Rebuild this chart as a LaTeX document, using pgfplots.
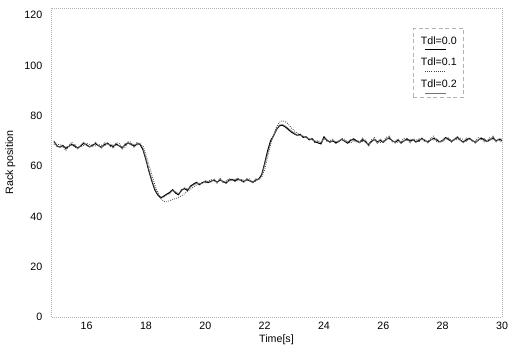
\documentclass[border=0pt]{standalone}
\usepackage{pgfplots}
\usepackage{pgfplotstable}
\pgfplotsset{compat=1.18}
\usepackage{fontspec}
\setmainfont{Liberation Sans}
\pgfplotstableread{
x a b c
14.9 69.8 70.0 68.7
15.0 68.0 67.6 68.6
15.1 67.5 67.7 68.5
15.2 68.2 67.5 68.0
15.3 67.0 67.6 66.1
15.4 67.8 67.8 68.2
15.5 68.6 68.3 69.5
15.6 67.9 68.7 67.3
15.7 67.2 66.7 67.4
15.8 68.0 68.3 67.6
15.9 69.0 69.5 68.2
16.0 68.4 68.0 69.0
16.1 67.6 67.8 68.6
16.2 68.3 67.6 68.1
16.3 68.9 69.5 68.0
16.4 68.1 68.1 68.5
16.5 67.4 67.1 68.3
16.6 68.5 69.3 67.9
16.7 69.1 68.6 69.3
16.8 68.2 68.5 67.8
16.9 67.8 68.3 67.0
17.0 68.7 68.3 69.3
17.1 68.0 68.2 69.0
17.2 67.3 66.6 67.1
17.3 68.4 69.0 67.5
17.4 69.2 69.2 69.6
17.5 68.6 68.3 69.5
17.6 67.9 68.7 67.3
17.7 68.8 68.3 69.5
17.8 68.6 69.1 68.4
17.9 66.5 67.0 68.0
18.0 62.5 63.0 64.5
18.1 58.0 58.6 60.5
18.2 54.0 54.5 56.5
18.3 50.5 51.0 52.5
18.4 48.5 48.8 49.5
18.5 47.3 47.8 47.0
18.6 48.0 47.6 46.0
18.7 48.8 48.5 45.8
18.8 49.5 49.0 46.2
18.9 50.6 50.2 46.8
19.0 49.2 49.8 47.0
19.1 48.6 49.0 47.5
19.2 50.5 50.0 48.2
19.3 51.0 51.4 49.0
19.4 50.3 50.8 50.0
19.5 52.0 51.6 50.8
19.6 52.8 52.4 51.6
19.7 53.5 53.0 52.4
19.8 52.6 53.2 53.0
19.9 53.4 53.0 53.6
20.0 53.8 54.2 53.2
20.1 53.4 53.8 53.9
20.2 54.0 53.6 54.6
20.3 54.4 54.9 54.0
20.4 53.6 53.3 53.2
20.5 54.5 55.1 55.1
20.6 53.8 53.5 53.4
20.7 53.2 53.7 54.0
20.8 54.4 54.0 55.0
20.9 54.7 54.3 54.5
21.0 54.0 54.7 54.6
21.1 54.9 55.2 54.1
21.2 54.3 54.1 54.7
21.3 53.8 53.4 54.4
21.4 54.6 55.1 54.2
21.5 54.1 54.2 54.9
21.6 53.6 53.3 53.2
21.7 54.4 55.0 54.1
21.8 54.8 54.5 54.8
21.9 56.5 56.0 55.5
22.0 61.0 60.5 58.5
22.1 66.0 65.0 63.5
22.2 70.0 69.2 68.5
22.3 72.0 72.0 72.5
22.4 74.5 74.6 75.5
22.5 76.0 76.3 77.4
22.6 76.2 76.5 78.0
22.7 75.5 75.9 77.6
22.8 74.5 75.0 76.6
22.9 73.5 74.0 75.2
23.0 72.8 73.2 74.0
23.1 72.2 72.0 73.0
23.2 72.6 72.2 72.4
23.3 71.4 71.9 71.8
23.4 71.6 71.2 71.5
23.5 70.4 70.9 70.6
23.6 70.8 70.3 71.2
23.7 69.6 70.0 69.0
23.8 69.2 69.6 70.2
23.9 68.8 69.4 69.3
24.0 71.6 71.0 70.8
24.1 70.2 70.6 69.8
24.2 69.5 69.3 70.1
24.3 70.0 70.3 70.8
24.4 69.2 69.6 68.9
24.5 69.9 69.9 69.5
24.6 70.6 70.8 71.0
24.7 69.8 69.9 70.6
24.8 69.1 69.5 69.5
24.9 70.2 70.7 69.1
25.0 70.8 70.1 70.2
25.1 70.0 69.7 69.6
25.2 69.3 69.3 70.1
25.3 70.4 71.2 69.8
25.4 69.7 69.2 70.6
25.5 68.5 68.8 67.7
25.6 69.8 69.4 70.4
25.7 70.5 70.7 71.5
25.8 69.6 68.9 69.4
25.9 70.2 70.8 69.3
26.0 69.4 69.4 69.8
26.1 70.6 70.3 71.5
26.2 71.2 72.0 70.6
26.3 70.0 69.5 70.2
26.4 69.5 69.8 69.1
26.5 70.3 70.8 69.5
26.6 69.2 68.8 69.8
26.7 70.0 70.2 71.0
26.8 70.8 70.1 70.6
26.9 69.9 70.5 69.0
27.0 70.4 70.4 70.8
27.1 69.6 69.3 70.5
27.2 70.1 70.9 69.5
27.3 70.9 70.4 71.1
27.4 70.2 70.5 69.8
27.5 69.5 69.1 69.8
27.6 70.4 70.6 71.0
27.7 71.0 70.3 71.9
27.8 70.3 70.9 69.7
27.9 69.6 69.6 69.4
28.0 70.2 70.1 69.8
28.1 71.3 71.0 70.7
28.2 70.5 71.3 70.8
28.3 69.8 69.3 70.2
28.4 70.6 70.8 70.4
28.5 71.4 71.8 70.5
28.6 70.2 70.2 71.1
28.7 69.5 69.2 70.4
28.8 70.4 71.2 69.8
28.9 71.0 70.5 71.2
29.0 70.1 70.4 69.7
29.1 69.4 69.0 70.0
29.2 70.3 70.5 71.3
29.3 71.1 70.4 70.9
29.4 70.4 71.0 69.5
29.5 69.7 69.7 70.1
29.6 70.5 70.2 71.4
29.7 71.2 72.0 70.6
29.8 70.0 69.5 70.2
29.9 70.6 70.9 70.2
30.0 70.2 70.7 69.4
}\datatable
\begin{document}
\begin{tikzpicture}
\begin{axis}[
  name=ax,
  scale only axis,
  width=338.25pt, height=231.75pt,
  xmin=14.8, xmax=30.0,
  ymin=0, ymax=122.8,
  xtick={16,18,20,22,24,26,28,30},
  ytick={0,20,40,60,80,100,120},
  tick style={draw=none},
  axis line style={gray!60, densely dotted, line width=0.5pt},
  /pgf/number format/assume math mode=true,
  tick label style={font=\fontsize{8}{9.5}\selectfont},
  yticklabel style={xshift=-3pt},
  label style={font=\fontsize{8}{9.5}\selectfont},
  xlabel={Time[s]},
  ylabel={Rack position},
  xlabel style={yshift=3pt},
  legend style={at={(0.803,0.935)}, anchor=north west, draw=gray!60, densely dashed,
    font=\fontsize{8}{9.5}\selectfont, row sep=5pt, inner xsep=3pt, inner ysep=4pt},
  legend cell align=left,
  legend image code/.code={\draw[#1, overlay] (0.2cm,-0.22cm) -- (0.75cm,-0.22cm); \path[draw=none, fill=none] (0,0) rectangle (0.02cm,0.01cm);},
]
\addplot[black, line width=0.8pt] table[x=x, y=a] {\datatable};
\addlegendentry{Tdl=0.0}
\addplot[black!75, line width=0.6pt, densely dotted] table[x=x, y=c] {\datatable};
\addlegendentry{Tdl=0.1}
\addplot[black!55, line width=0.4pt] table[x=x, y=b] {\datatable};
\addlegendentry{Tdl=0.2}
\end{axis}
\path (ax.south west) ++(-38.25pt,-29.25pt) coordinate (bl);
\path (ax.north east) ++(11.25pt,6pt) coordinate (tr);
\path (bl) rectangle (tr);
\end{tikzpicture}
\end{document}
